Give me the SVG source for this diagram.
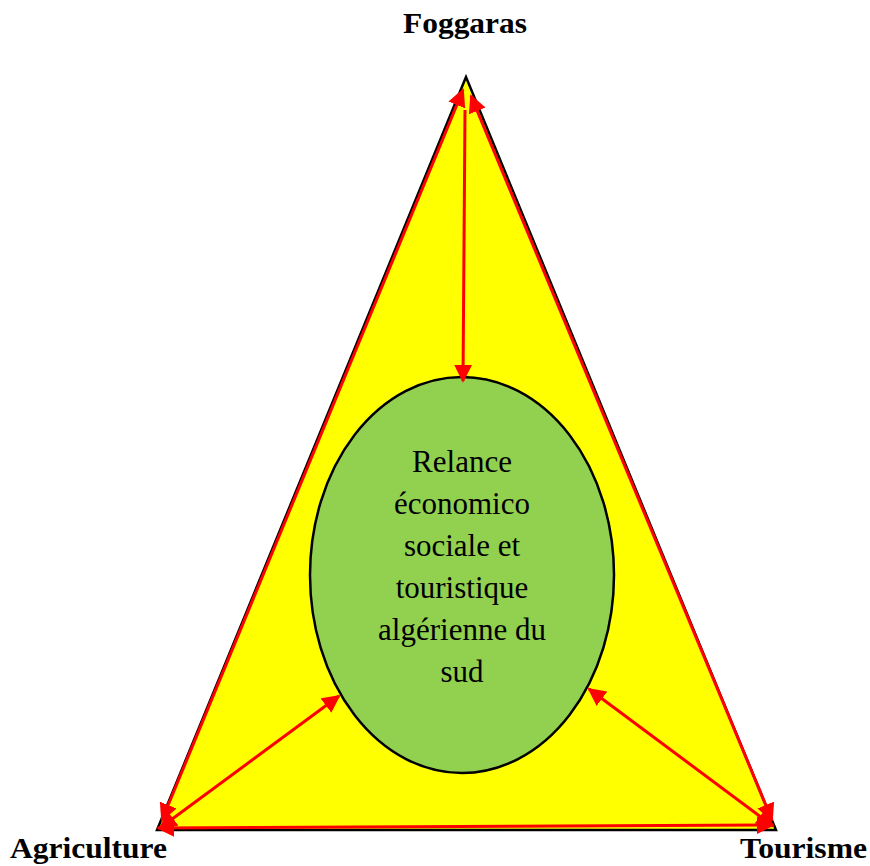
<svg xmlns="http://www.w3.org/2000/svg" width="870" height="866" viewBox="0 0 870 866">
<style>
.lbl{font-family:"Liberation Serif",serif;font-weight:bold;font-size:30px;fill:#000}
.in{font-family:"Liberation Serif",serif;font-size:31px;fill:#000;text-anchor:middle}
.ar{stroke:#ff0000;stroke-width:3;fill:none;marker-end:url(#ah)}
.ar2{stroke:#ff0000;stroke-width:3;fill:none;marker-start:url(#ahs);marker-end:url(#ah)}
</style>
<defs>
<marker id="ah" viewBox="0 0 10 10" refX="9" refY="5" markerWidth="6" markerHeight="6" orient="auto" markerUnits="strokeWidth"><path d="M0,0 L10,5 L0,10 z" fill="#ff0000"/></marker>
<marker id="ahs" viewBox="0 0 10 10" refX="1" refY="5" markerWidth="6" markerHeight="6" orient="auto" markerUnits="strokeWidth"><path d="M10,0 L0,5 L10,10 z" fill="#ff0000"/></marker>
</defs>
<g id="triangle"><polygon points="466,77 157,830 776,830" fill="#ffff00" stroke="#000" stroke-width="2.5"/></g>
<g id="center"><ellipse cx="462" cy="575" rx="152" ry="198" fill="#92d050" stroke="#000" stroke-width="2.5"/>
<text class="in" x="462" y="472">Relance</text>
<text class="in" x="462" y="514">économico</text>
<text class="in" x="462" y="556">sociale et</text>
<text class="in" x="462" y="598">touristique</text>
<text class="in" x="462" y="640">algérienne du</text>
<text class="in" x="462" y="682">sud</text>
</g>
<g id="foggaras"><text class="lbl" x="403" y="33" textLength="124" lengthAdjust="spacingAndGlyphs">Foggaras</text></g>
<g id="agriculture"><text class="lbl" x="10" y="858" textLength="157" lengthAdjust="spacingAndGlyphs">Agriculture</text></g>
<g id="tourisme"><text class="lbl" x="740" y="858" textLength="127" lengthAdjust="spacingAndGlyphs">Tourisme</text></g>
<g id="connectors">
<line class="ar2" x1="162" y1="820" x2="463" y2="90"/>
<line class="ar2" x1="471" y1="96" x2="772" y2="820"/>
<line class="ar2" x1="158" y1="828" x2="773" y2="825"/>
<line class="ar2" x1="160" y1="828" x2="339" y2="696"/>
<line class="ar2" x1="773" y1="826" x2="589" y2="689"/>
<line class="ar" x1="465" y1="110" x2="463" y2="381"/>
</g>
</svg>
